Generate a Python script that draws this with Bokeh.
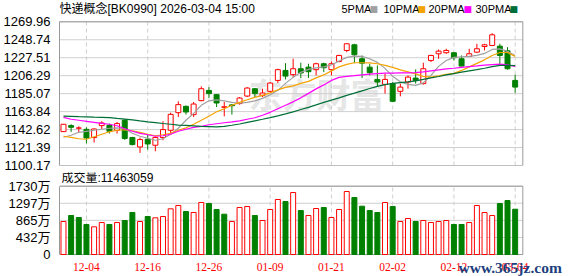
from bokeh.plotting import figure
from bokeh.layouts import column
from bokeh.models import (Range1d, FixedTicker, Label, LabelSet, ColumnDataSource,
                          PrintfTickFormatter)
from bokeh.embed import file_html
from bokeh.resources import INLINE

title_text = "快递概念[BK0990] 2026-03-04 15:00"
volume_title = "成交量:11463059"

open_ = [1140.2, 1147.3, 1144.3, 1142.9, 1133.2, 1147.3, 1147.7, 1141.8, 1153.6, 1133.2,
         1122.1, 1131.2, 1124.1, 1133.2, 1141.8, 1162.6, 1170.1, 1160.3, 1176.8, 1188.9,
         1183.9, 1169.0, 1171.8, 1173.3, 1182.2, 1190.9, 1183.1, 1187.8, 1200.7, 1212.5,
         1207.5, 1214.5, 1216.4, 1213.4, 1220.4, 1213.4, 1223.1, 1236.1, 1242.8, 1226.3,
         1216.4, 1201.9, 1196.0, 1196.9, 1187.8, 1198.7, 1203.5, 1196.9, 1224.3, 1232.2,
         1233.4, 1233.4, 1226.3, 1229.0, 1234.1, 1240.8, 1242.0, 1241.2, 1235.7, 1200.7]
high = [1149.2, 1148.9, 1146.5, 1145.3, 1144.0, 1152.4, 1149.7, 1151.6, 1154.8, 1134.1,
        1133.2, 1136.7, 1134.7, 1152.4, 1162.6, 1176.0, 1171.0, 1175.2, 1193.7, 1192.8,
        1184.2, 1175.2, 1172.8, 1181.0, 1192.8, 1191.7, 1190.9, 1198.8, 1214.5, 1221.1,
        1226.3, 1221.6, 1220.4, 1221.6, 1221.6, 1223.1, 1231.0, 1244.5, 1244.0, 1230.2,
        1220.4, 1218.4, 1208.6, 1198.8, 1196.9, 1206.6, 1213.7, 1221.6, 1231.0, 1237.3,
        1238.1, 1234.1, 1230.2, 1238.1, 1244.0, 1244.0, 1256.5, 1244.0, 1240.0, 1207.5]
low = [1140.0, 1139.8, 1139.8, 1126.4, 1127.3, 1143.3, 1137.9, 1137.9, 1130.6, 1124.0,
       1115.0, 1119.0, 1117.0, 1130.0, 1138.6, 1157.5, 1160.3, 1157.5, 1176.0, 1179.9,
       1169.2, 1158.3, 1160.3, 1172.1, 1181.0, 1181.0, 1181.0, 1187.0, 1197.6, 1201.9,
       1204.6, 1203.5, 1203.5, 1206.6, 1210.5, 1206.6, 1222.0, 1234.1, 1221.1, 1203.5,
       1206.6, 1193.7, 1185.1, 1175.2, 1181.9, 1190.9, 1196.9, 1195.7, 1222.3, 1226.3,
       1232.2, 1224.3, 1217.6, 1228.2, 1233.4, 1236.1, 1241.2, 1220.4, 1213.4, 1186.2]
close = [1148.9, 1145.3, 1144.5, 1132.7, 1143.3, 1150.4, 1140.6, 1149.7, 1132.0, 1124.9,
         1130.8, 1125.6, 1133.2, 1142.6, 1160.6, 1172.1, 1163.4, 1172.8, 1190.9, 1185.1,
         1174.0, 1169.5, 1170.8, 1179.9, 1191.7, 1185.1, 1185.8, 1197.6, 1213.4, 1205.8,
         1214.5, 1209.5, 1211.0, 1220.4, 1215.7, 1220.4, 1230.2, 1244.0, 1231.0, 1221.1,
         1209.8, 1198.8, 1201.9, 1176.0, 1192.8, 1204.6, 1200.7, 1214.5, 1230.2, 1235.3,
         1236.1, 1227.5, 1217.6, 1232.2, 1238.1, 1242.8, 1254.6, 1230.2, 1214.5, 1192.8]
# volume in 万
volume = [836, 988, 937, 760, 701, 810, 760, 810, 861, 1064,
          836, 962, 929, 962, 1157, 1241, 1089, 1064, 1317, 1292,
          1140, 1021, 836, 1190, 1216, 988, 861, 1140, 1393, 1342,
          1570, 1114, 988, 1165, 1190, 937, 1140, 1596, 1444, 1224,
          1114, 1064, 1317, 1216, 836, 912, 836, 861, 810, 836,
          861, 760, 760, 810, 1241, 1064, 988, 1292, 1368, 1146.3059]
ma5 = [1133.5, 1135.9, 1139.4, 1140.6, 1141.8, 1143.0, 1144.2, 1144.7, 1143.6, 1138.2,
       1134.7, 1132.4, 1130.0, 1131.8, 1137.1, 1144.2, 1153.6, 1161.8, 1171.3, 1176.6,
       1177.8, 1176.6, 1174.8, 1173.7, 1174.8, 1176.6, 1179.5, 1183.7, 1189.0, 1197.2,
       1204.3, 1210.2, 1213.7, 1215.5, 1216.7, 1219.0, 1223.7, 1227.9, 1229.4, 1229.1,
       1226.3, 1222.0, 1214.9, 1205.5, 1199.0, 1196.0, 1194.8, 1197.8, 1206.6, 1217.3,
       1224.3, 1227.9, 1228.5, 1229.1, 1230.2, 1232.6, 1237.3, 1237.9, 1235.0, 1230.2]
ma10 = [1134.7, 1133.5, 1131.8, 1131.2, 1134.1, 1137.1, 1140.0, 1141.8, 1142.4, 1141.2,
        1139.4, 1137.1, 1135.3, 1136.5, 1138.2, 1141.8, 1144.7, 1148.9, 1153.6, 1158.3,
        1163.6, 1167.2, 1171.3, 1174.8, 1177.8, 1180.7, 1183.1, 1186.0, 1189.6, 1192.5,
        1194.3, 1197.2, 1199.6, 1203.7, 1207.2, 1212.0, 1216.7, 1219.6, 1221.6, 1221.6,
        1221.4, 1220.4, 1218.5, 1216.1, 1213.1, 1210.8, 1208.4, 1205.5, 1204.7, 1206.1,
        1207.8, 1209.0, 1212.5, 1216.7, 1220.8, 1225.0, 1230.2, 1233.7, 1233.7, 1229.1]
ma20 = [1157.1, 1154.8, 1153.6, 1152.4, 1151.2, 1150.0, 1148.9, 1147.1, 1143.6, 1140.6,
        1138.2, 1136.5, 1134.7, 1135.3, 1137.1, 1140.6, 1143.0, 1145.3, 1146.5, 1148.3,
        1149.5, 1150.7, 1151.8, 1153.0, 1154.8, 1156.6, 1159.5, 1163.0, 1167.2, 1171.3,
        1175.4, 1180.1, 1185.4, 1190.7, 1195.4, 1200.7, 1204.3, 1205.5, 1206.3, 1207.2,
        1208.1, 1208.8, 1209.2, 1209.3, 1209.5, 1209.6, 1209.8, 1210.8, 1212.0, 1213.1,
        1214.3, 1215.1, 1216.1, 1217.0, 1217.8, 1218.7, 1219.4, 1219.9, 1219.0, 1217.2]
ma30 = [1158.6, 1158.3, 1157.9, 1157.7, 1157.3, 1157.1, 1156.8, 1155.8, 1155.0, 1154.1,
        1152.9, 1151.8, 1150.9, 1149.8, 1148.9, 1147.9, 1147.5, 1147.0, 1146.5, 1146.2,
        1145.9, 1146.5, 1147.7, 1149.2, 1151.2, 1153.0, 1154.8, 1156.8, 1158.9, 1161.2,
        1163.6, 1166.3, 1168.9, 1171.8, 1174.8, 1177.4, 1180.1, 1183.1, 1185.7, 1188.4,
        1191.1, 1193.7, 1195.7, 1197.2, 1198.1, 1199.0, 1200.2, 1201.9, 1203.7, 1205.3,
        1207.2, 1208.8, 1210.4, 1212.0, 1213.5, 1215.1, 1217.0, 1218.5, 1218.5, 1218.1]

tick_idx = [3, 11, 19, 27, 35, 43, 51, 59]
tick_labels = ["12-04", "12-16", "12-26", "01-09", "01-21", "02-02", "02-12", "03-04"]
price_ticks = [1100.17, 1121.39, 1142.62, 1163.84, 1185.07, 1206.29, 1227.51, 1248.74, 1269.96]
vol_ticks = [0, 432.5, 865, 1297.5, 1730]
vol_tick_labels = ["0", "432万", "865万", "1297万", "1730万"]
ma_names = ["5PMA", "10PMA", "20PMA", "30PMA"]

RED = "#ff0000"
GREEN = "#008000"
ma_colors = ["#a0a0a0", "#f5a300", "#ff00ff", "#006f37"]
GRID = "#cfcfcf"
FRAME = "#999999"
FONT = "Liberation Sans, Noto Sans CJK SC"

# ---- layout constants (pixels) ----
W = 578
BL, BOX_W = 56, 466                               # left border, width of the plot box
P_H, P_FRAME_H, P_TOP_PAD = 172, 165, 21.3        # price panel: frame from canvas top
V_H, V_TOP_PAD, V_ZERO_PX = 104, 13.7, 82.0       # volume panel: frame fills canvas
X0, X1 = -0.52, 60.0                              # data extent of the plot box

n = len(close)
xs = list(range(n))
up = [c >= o for o, c in zip(open_, close)]
vol_up = [close[0] >= open_[0]] + [close[i] >= close[i - 1] for i in range(1, n)]

src = ColumnDataSource(dict(
    x=xs, open=open_, close=close, high=high, low=low,
    top=[max(o, c) for o, c in zip(open_, close)],
    bottom=[min(o, c) for o, c in zip(open_, close)],
    line=[RED if u else GREEN for u in up],
    fill=["#ffffff" if u else GREEN for u in up],
    volume=volume,
    vline=[RED if u else GREEN for u in vol_up],
    vfill=["#ffffff" if u else GREEN for u in vol_up],
))

# frames run to the right canvas edge; the plot box ends at X1
x_per_px = (X1 - X0) / BOX_W
x_range = Range1d(X0, X0 + (W - BL) * x_per_px)

p_scale = (price_ticks[-1] - price_ticks[0]) / (P_FRAME_H - P_TOP_PAD)
p_range = Range1d(price_ticks[0], price_ticks[-1] + P_TOP_PAD * p_scale)
v_scale = vol_ticks[-1] / (V_ZERO_PX - V_TOP_PAD)
v_range = Range1d(-(V_H - V_ZERO_PX) * v_scale, vol_ticks[-1] + V_TOP_PAD * v_scale)


def base_style(p, ticks):
    p.outline_line_color = None
    p.background_fill_color = "#ffffff"
    p.border_fill_color = "#ffffff"
    if p.title is not None:
        p.title.visible = False
    p.xgrid.grid_line_color = None
    p.ygrid.grid_line_color = None
    ax = p.yaxis[0]
    ax.ticker = FixedTicker(ticks=ticks)
    ax.bounds = (ticks[0], ticks[-1])
    ax.axis_line_color = FRAME
    ax.major_tick_line_color = None
    ax.minor_tick_line_color = None
    ax.major_label_text_font = FONT
    ax.major_label_text_font_size = "13px"
    ax.major_label_text_color = "#000000"
    ax.major_label_standoff = 3
    k = len(ticks)
    # horizontal grid
    p.segment(x0=[X0] * k, y0=ticks, x1=[X1] * k, y1=ticks, line_color=GRID, line_width=1)
    # dashed vertical grid limited to the plot box
    m = len(tick_idx)
    p.segment(x0=tick_idx, y0=[ticks[0]] * m, x1=tick_idx, y1=[ticks[-1]] * m,
              line_color=GRID, line_dash="4 3", line_width=1)
    # top / bottom / right border of the box
    p.segment(x0=[X0, X0, X1], y0=[ticks[0], ticks[-1], ticks[0]],
              x1=[X1, X1, X1], y1=[ticks[0], ticks[-1], ticks[-1]],
              line_color=FRAME, line_width=1)


# ---- price panel ----
p1 = figure(width=W, height=P_H, x_range=x_range, y_range=p_range,
            output_backend="svg", toolbar_location=None, x_axis_location=None,
            min_border_left=BL, min_border_right=0, min_border_top=0,
            min_border_bottom=P_H - P_FRAME_H)
p1.add_layout(Label(x=189, y=P_FRAME_H - 93, x_units="screen", y_units="screen", text="东方财富",
                    text_font="Noto Sans CJK SC", text_font_size="34px", text_font_style="bold",
                    text_color="#e6e6e6", text_baseline="middle", level="underlay"))
base_style(p1, price_ticks)
p1.yaxis[0].formatter = PrintfTickFormatter(format="%.2f")

p1.segment(x0="x", y0="low", x1="x", y1="high", color="line", line_width=1, source=src)
p1.vbar(x="x", width=0.65, top="top", bottom="bottom", fill_color="fill",
        line_color="line", line_width=1, source=src)
for vals, col in zip([ma5, ma10, ma20, ma30], ma_colors):
    p1.line(xs, vals, line_color=col, line_width=1.2)

TY = P_FRAME_H - 8.3
p1.add_layout(Label(x=0, y=TY, x_units="screen", y_units="screen", text=title_text,
                    text_font=FONT, text_font_size="12px", text_color="#000000",
                    text_baseline="middle"))
legend_text_x = [282, 324, 369, 416]
legend_box_x = [310, 358, 404, 450]
for name, col, tx, bx in zip(ma_names, ma_colors, legend_text_x, legend_box_x):
    p1.add_layout(Label(x=tx, y=TY, x_units="screen", y_units="screen", text=name,
                        text_font=FONT, text_font_size="11px", text_color="#000000",
                        text_baseline="middle"))
    p1.add_layout(Label(x=bx, y=TY, x_units="screen", y_units="screen", text="■",
                        text_font="DejaVu Sans", text_font_size="9px", text_color=col,
                        text_baseline="middle"))

# ---- volume panel ----
p2 = figure(width=W, height=V_H, x_range=x_range, y_range=v_range,
            output_backend="svg", toolbar_location=None, x_axis_location=None,
            min_border_left=BL, min_border_right=0, min_border_top=0, min_border_bottom=0)
base_style(p2, vol_ticks)
p2.yaxis[0].major_label_overrides = {t: s for t, s in zip(vol_ticks, vol_tick_labels)}

p2.vbar(x="x", width=0.65, top="volume", bottom=0, fill_color="vfill",
        line_color="vline", line_width=1, source=src)

p2.add_layout(Label(x=2, y=V_H - 5.8, x_units="screen", y_units="screen", text=volume_title,
                    text_font=FONT, text_font_size="12px", text_color="#000000",
                    text_baseline="middle"))
date_src = ColumnDataSource(dict(x=tick_idx, text=tick_labels))
p2.add_layout(LabelSet(x="x", y=V_H - 94, y_units="screen", text="text", source=date_src,
                       text_font=FONT, text_font_size="11.5px", text_color=RED,
                       text_align="center", text_baseline="middle"))
p2.add_layout(Label(x=399, y=V_H - 95, x_units="screen", y_units="screen", text="www.365jz.com",
                    text_font="Liberation Serif", text_font_size="15.5px", text_font_style="bold",
                    text_color="#1d3f7e", text_baseline="alphabetic"))

layout = column(p1, p2, spacing=0)
open("out.html", "w").write(file_html(layout, INLINE))
